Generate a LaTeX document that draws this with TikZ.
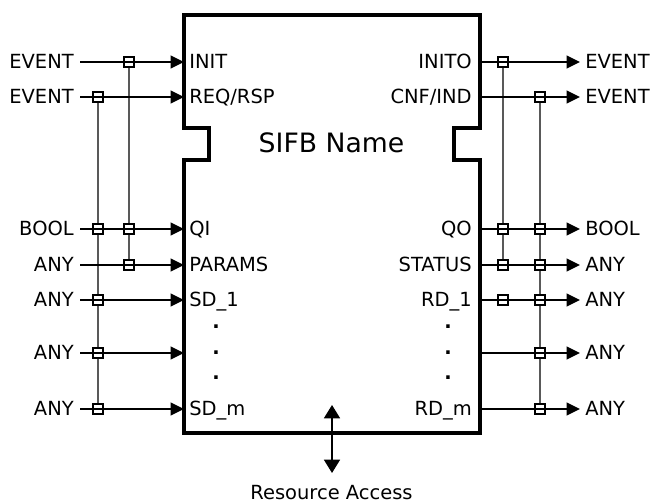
\documentclass[tikz,border=0pt]{standalone}
\usepackage{fontspec}
\setmainfont{DejaVu Sans}
\usetikzlibrary{arrows.meta}
\begin{document}
\begin{tikzpicture}[x=0.75pt,y=-0.75pt,
  lbl/.style={font=\fontsize{14.6}{18}\selectfont, inner sep=0pt, anchor=base},
  dotlbl/.style={font=\fontsize{14.6}{18}\bfseries, inner sep=0pt, anchor=base},
  jn/.style={draw, line width=1.1pt, fill=white, minimum size=7.6pt, inner sep=0pt, rectangle},
  sig/.style={line width=1.3pt, -{Triangle[length=10pt,width=9.5pt]}},
  bus/.style={line width=0.8pt, draw=black!65},
  fbbox/.style={line width=2.3pt, line join=miter},
  ra/.style={line width=1.3pt, {Triangle[length=10pt,width=12pt]}-{Triangle[length=10pt,width=12pt]}}]
\useasboundingbox (0,0) rectangle (654,502);

% function block outline
\draw[fbbox] (184,15) -- (480,15) -- (480,128) -- (454,128) -- (454,160) -- (480,160)
  -- (480,433) -- (184,433) -- (184,160) -- (209,160) -- (209,128) -- (184,128) -- cycle;
\node[font=\fontsize{20}{24}\selectfont, inner sep=0pt, anchor=base] (title) at (331.5,153) {SIFB Name};

% left type labels
\node[lbl, anchor=base east] (tl1) at (74,69) {EVENT};
\node[lbl, anchor=base east] (tl2) at (74,104) {EVENT};
\node[lbl, anchor=base east] (tl3) at (74,236) {BOOL};
\node[lbl, anchor=base east] (tl4) at (74,272) {ANY};
\node[lbl, anchor=base east] (tl5) at (74,307) {ANY};
\node[lbl, anchor=base east] (tl6) at (74,360) {ANY};
\node[lbl, anchor=base east] (tl7) at (74,416) {ANY};

% left port labels
\node[lbl, anchor=base west] (pl1) at (189,69) {INIT};
\node[lbl, anchor=base west] (pl2) at (189,104) {REQ/RSP};
\node[lbl, anchor=base west] (pl3) at (189,236) {QI};
\node[lbl, anchor=base west] (pl4) at (189,272) {PARAMS};
\node[lbl, anchor=base west] (pl5) at (189,307) {SD\_1};
\node[lbl, anchor=base west] (pl7) at (189,416) {SD\_m};
\node[dotlbl] (dl1) at (216,329) {.};
\node[dotlbl] (dl2) at (216,355) {.};
\node[dotlbl] (dl3) at (216,380) {.};

% right port labels
\node[lbl, anchor=base east] (pr1) at (472,69) {INITO};
\node[lbl, anchor=base east] (pr2) at (472,104) {CNF/IND};
\node[lbl, anchor=base east] (pr3) at (472,236) {QO};
\node[lbl, anchor=base east] (pr4) at (472,272) {STATUS};
\node[lbl, anchor=base east] (pr5) at (472,307) {RD\_1};
\node[lbl, anchor=base east] (pr7) at (472,416) {RD\_m};
\node[dotlbl] (dr1) at (448,329) {.};
\node[dotlbl] (dr2) at (448,355) {.};
\node[dotlbl] (dr3) at (448,380) {.};

% right type labels
\node[lbl, anchor=base west] (tr1) at (585,69) {EVENT};
\node[lbl, anchor=base west] (tr2) at (585,104) {EVENT};
\node[lbl, anchor=base west] (tr3) at (585,236) {BOOL};
\node[lbl, anchor=base west] (tr4) at (585,272) {ANY};
\node[lbl, anchor=base west] (tr5) at (585,307) {ANY};
\node[lbl, anchor=base west] (tr6) at (585,360) {ANY};
\node[lbl, anchor=base west] (tr7) at (585,416) {ANY};

% line end points
\foreach \i/\y in {1/62,2/97,3/229,4/265,5/300,6/353,7/409}{
  \coordinate (sl\i) at (80,\y);
  \coordinate (el\i) at (184,\y);
  \coordinate (sr\i) at (480,\y);
  \coordinate (er\i) at (580,\y);
}

% junction squares
\node[jn] (ja1) at (129,62) {};
\node[jn] (ja3) at (129,229) {};
\node[jn] (ja4) at (129,265) {};
\node[jn] (jb2) at (98,97) {};
\node[jn] (jb3) at (98,229) {};
\node[jn] (jb5) at (98,300) {};
\node[jn] (jb6) at (98,353) {};
\node[jn] (jb7) at (98,409) {};
\node[jn] (jc1) at (503,62) {};
\node[jn] (jc3) at (503,229) {};
\node[jn] (jc4) at (503,265) {};
\node[jn] (jc5) at (503,300) {};
\node[jn] (jd2) at (540,97) {};
\node[jn] (jd3) at (540,229) {};
\node[jn] (jd4) at (540,265) {};
\node[jn] (jd5) at (540,300) {};
\node[jn] (jd6) at (540,353) {};
\node[jn] (jd7) at (540,409) {};

% association (WITH) lines
\draw[bus] (ja1) -- (ja3) -- (ja4);
\draw[bus] (jb2) -- (jb3) -- (jb5) -- (jb6) -- (jb7);
\draw[bus] (jc1) -- (jc3) -- (jc4);
\draw[bus] (jd2) -- (jd3) -- (jd4) -- (jd5) -- (jd6) -- (jd7);

% input and output connections
\foreach \i in {1,...,7}{
  \draw[sig] (sl\i) -- (el\i);
  \draw[sig] (sr\i) -- (er\i);
}

% resource access
\coordinate (ra1) at (332,405);
\coordinate (ra2) at (332,473);
\draw[ra] (ra1) -- (ra2);
\node[lbl] (res) at (331.5,499) {Resource Access};
\end{tikzpicture}
\end{document}
